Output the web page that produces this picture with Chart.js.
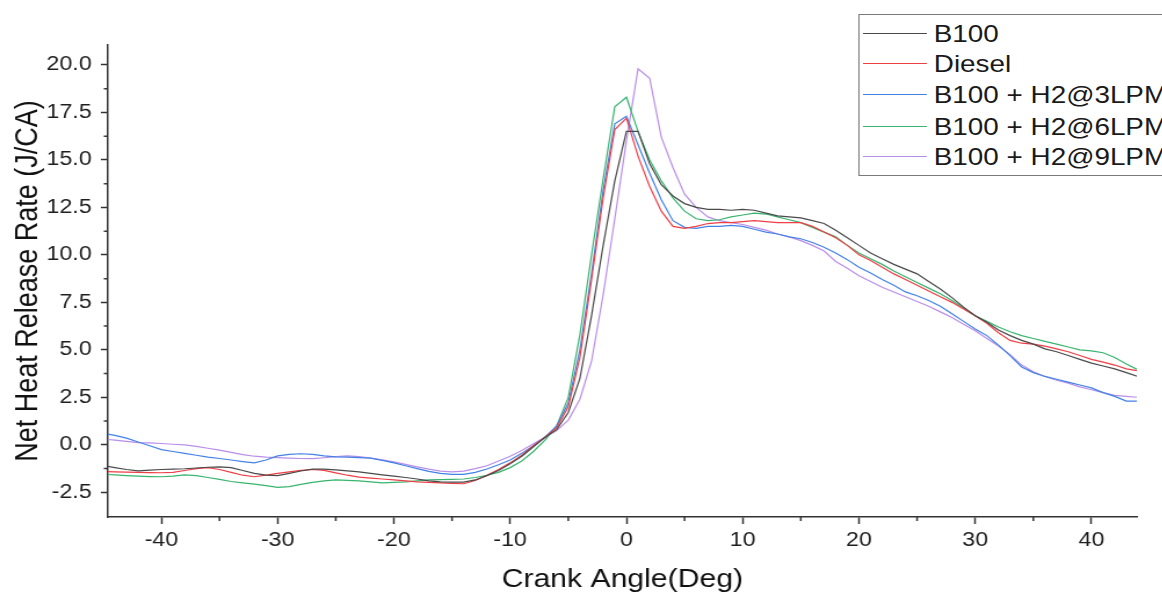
<!DOCTYPE html>
<html>
<head>
<meta charset="utf-8">
<script src="https://cdn.jsdelivr.net/npm/chart.js@4.4.1/dist/chart.umd.min.js"></script>
<style>
    html, body { margin: 0; padding: 0; background: #fff; overflow: hidden; width: 1162px; height: 593px; }
    /* el dibujo original está algo ensanchado en horizontal */
    #lienzo { position: relative; width: 1002px; height: 593px; transform: scaleX(1.16); transform-origin: 0 0; }
    #grafico { position: absolute; left: 0; top: 0; }
    #leyenda {
        position: absolute; left: 740px; top: 14px; width: 320px; height: 162px;
        border: 1.5px solid #7a7a7a; box-sizing: border-box; background: #fff;
        font-family: "Liberation Sans", Arial, sans-serif; font-size: 24px; color: #1a1a1a;
    }
    .fila { position: absolute; left: 0; height: 28px; width: 100%; }
    .muestra { position: absolute; left: 3px; top: 13px; width: 55px; height: 1.3px; }
    .texto { position: absolute; left: 64px; top: 0; line-height: 28px; white-space: nowrap; }
</style>
</head>
<body>
<div id="lienzo">
    <canvas id="grafico" width="1002" height="593"></canvas>
    <div id="leyenda"></div>
</div>
<script>
// grados de cigüeñal
const angulos = [-45, -44, -43, -42, -41, -40, -39, -38, -37, -36,
    -35, -34, -33, -32, -31, -30, -29, -28, -27, -26,
    -25, -24, -23, -22, -21, -20, -19, -18, -17, -16,
    -15, -14, -13, -12, -11, -10, -9, -8, -7, -6,
    -5, -4, -3, -2, -1, 0, 1, 2, 3, 4,
    5, 6, 7, 8, 9, 10, 11, 12, 13, 14,
    15, 16, 17, 18, 19, 20, 21, 22, 23, 24,
    25, 26, 27, 28, 29, 30, 31, 32, 33, 34,
    35, 36, 37, 38, 39, 40, 41, 42, 43, 44];

const tasaB100 = [-1.1, -1.2, -1.3, -1.37, -1.33, -1.3, -1.28, -1.26, -1.22, -1.18,
    -1.16, -1.2, -1.35, -1.5, -1.6, -1.62, -1.5, -1.38, -1.28, -1.28,
    -1.32, -1.37, -1.42, -1.5, -1.58, -1.65, -1.72, -1.8, -1.9, -1.95,
    -1.96, -1.96, -1.85, -1.62, -1.35, -1.0, -0.6, -0.1, 0.4, 0.8,
    1.7, 3.5, 6.8, 10.5, 13.9, 16.5, 16.5, 14.8, 13.7, 13.1,
    12.7, 12.5, 12.4, 12.4, 12.35, 12.4, 12.35, 12.2, 12.05, 12.0,
    11.95, 11.8, 11.65, 11.3, 10.9, 10.5, 10.1, 9.8, 9.5, 9.25,
    9.0, 8.6, 8.2, 7.75, 7.25, 6.8, 6.45, 6.05, 5.75, 5.5,
    5.3, 5.05, 4.9, 4.7, 4.5, 4.3, 4.15, 4.0, 3.8, 3.6];

const tasaDiesel = [-1.4, -1.42, -1.44, -1.45, -1.46, -1.47, -1.45, -1.35, -1.25, -1.2,
    -1.3, -1.45, -1.6, -1.68, -1.6, -1.5, -1.42, -1.35, -1.3, -1.35,
    -1.48, -1.6, -1.7, -1.75, -1.8, -1.85, -1.9, -1.95, -1.98, -2.0,
    -2.03, -2.05, -1.88, -1.6, -1.3, -0.95, -0.55, -0.05, 0.4, 0.9,
    2.0, 4.6, 8.7, 13.0, 16.6, 17.2, 15.2, 13.6, 12.3, 11.5,
    11.4, 11.5, 11.65, 11.7, 11.7, 11.75, 11.8, 11.75, 11.7, 11.7,
    11.7, 11.5, 11.2, 10.9, 10.5, 10.0, 9.7, 9.35, 9.0, 8.7,
    8.4, 8.1, 7.8, 7.5, 7.15, 6.8, 6.4, 5.9, 5.5, 5.35,
    5.3, 5.2, 5.05, 4.9, 4.7, 4.5, 4.35, 4.2, 4.0, 3.9];

const tasaH2_3 = [0.6, 0.5, 0.35, 0.15, -0.05, -0.25, -0.35, -0.45, -0.55, -0.65,
    -0.72, -0.8, -0.88, -0.95, -0.8, -0.58, -0.5, -0.47, -0.5, -0.58,
    -0.63, -0.65, -0.67, -0.7, -0.82, -0.95, -1.1, -1.25, -1.4, -1.5,
    -1.56, -1.56, -1.45, -1.27, -1.05, -0.8, -0.45, -0.05, 0.4, 1.0,
    2.2, 5.0, 9.0, 13.4, 16.9, 17.3, 15.8, 14.3, 12.9, 11.8,
    11.45, 11.4, 11.5, 11.5, 11.55, 11.5, 11.35, 11.2, 11.1, 10.95,
    10.85, 10.65, 10.4, 10.1, 9.75, 9.35, 9.05, 8.7, 8.4, 8.05,
    7.85, 7.6, 7.3, 6.9, 6.5, 6.1, 5.75, 5.25, 4.7, 4.1,
    3.8, 3.6, 3.45, 3.3, 3.15, 3.0, 2.75, 2.55, 2.3, 2.3];

const tasaH2_6 = [-1.55, -1.58, -1.62, -1.65, -1.67, -1.68, -1.65, -1.58, -1.62, -1.72,
    -1.82, -1.93, -2.0, -2.07, -2.15, -2.24, -2.2, -2.08, -1.98, -1.9,
    -1.85, -1.87, -1.9, -1.95, -2.0, -1.98, -1.95, -1.9, -1.85, -1.83,
    -1.82, -1.8, -1.72, -1.6, -1.45, -1.2, -0.85, -0.35, 0.25, 1.0,
    2.5, 5.8, 10.0, 14.0, 17.8, 18.3, 16.5, 15.0, 13.9, 13.0,
    12.3, 11.9, 11.8, 11.85, 12.0, 12.1, 12.2, 12.15, 12.0, 11.85,
    11.7, 11.45, 11.2, 10.95, 10.5, 10.1, 9.8, 9.5, 9.15, 8.85,
    8.55, 8.25, 7.95, 7.6, 7.2, 6.8, 6.5, 6.2, 5.95, 5.75,
    5.6, 5.45, 5.3, 5.15, 5.0, 4.95, 4.85, 4.6, 4.25, 3.95];

const tasaH2_9 = [0.3, 0.25, 0.18, 0.12, 0.1, 0.07, 0.03, 0.0, -0.08, -0.18,
    -0.28, -0.4, -0.52, -0.6, -0.65, -0.67, -0.7, -0.72, -0.73, -0.68,
    -0.62, -0.58, -0.62, -0.7, -0.79, -0.9, -1.03, -1.16, -1.28, -1.38,
    -1.42, -1.38, -1.25, -1.1, -0.85, -0.6, -0.3, 0.05, 0.4, 0.75,
    1.3, 2.4, 4.4, 7.9, 11.9, 16.0, 19.8, 19.3, 16.2, 14.6,
    13.2, 12.5, 12.0, 11.8, 11.7, 11.6, 11.45, 11.3, 11.1, 10.95,
    10.75, 10.5, 10.2, 9.65, 9.3, 8.9, 8.6, 8.3, 8.05, 7.8,
    7.55, 7.3, 7.0, 6.7, 6.35, 6.0, 5.6, 5.2, 4.75, 4.2,
    3.85, 3.6, 3.4, 3.25, 3.05, 2.9, 2.75, 2.6, 2.55, 2.5];

const nombres = ["B100", "Diesel", "B100 + H2@3LPM", "B100 + H2@6LPM", "B100 + H2@9LPM"];
const colores = ["#4a4a4a", "#ee3f45", "#4282e6", "#38b46e", "#b98ee8"];
const series = [tasaB100, tasaDiesel, tasaH2_3, tasaH2_6, tasaH2_9];

// marcas de los ejes (mayores con etiqueta, menores sin ella)
const marcasX = [-40, -30, -20, -10, 0, 10, 20, 30, 40];
const marcasY = [-2.5, 0, 2.5, 5, 7.5, 10, 12.5, 15, 17.5, 20];
const menoresX = [-35, -25, -15, -5, 5, 15, 25, 35];
const menoresY = [-1.25, 1.25, 3.75, 6.25, 8.75, 11.25, 13.75, 16.25, 18.75];

Chart.defaults.font.family = '"Liberation Sans", Arial, sans-serif';

const marcasMenores = {
    id: 'marcasMenores',
    afterDraw(chart) {
        const ctx = chart.ctx;
        const ejeX = chart.scales.x;
        const ejeY = chart.scales.y;
        ctx.save();
        ctx.strokeStyle = '#333';
        ctx.lineWidth = 1.5;
        ctx.beginPath();
        for (const v of menoresX) {
            const px = ejeX.getPixelForValue(v);
            ctx.moveTo(px, ejeX.top);
            ctx.lineTo(px, ejeX.top + 4);
        }
        for (const v of menoresY) {
            const py = ejeY.getPixelForValue(v);
            ctx.moveTo(ejeY.right, py);
            ctx.lineTo(ejeY.right - 3.5, py);
        }
        ctx.stroke();
        ctx.restore();
    }
};

function armarDatasets() {
    return series.map((valores, i) => ({
        label: nombres[i],
        data: valores.map((v, j) => ({ x: angulos[j], y: v })),
        borderColor: colores[i],
        borderWidth: 1.2,
        pointRadius: 0,
        tension: 0,
        fill: false
    }));
}

function armarLeyenda() {
    const leyenda = document.getElementById("leyenda");
    const centros = [19, 49, 80, 112, 142];
    nombres.forEach((nombre, i) => {
        const fila = document.createElement("div");
        fila.className = "fila";
        fila.style.top = (centros[i] - 14) + "px";
        const muestra = document.createElement("div");
        muestra.className = "muestra";
        muestra.style.background = colores[i];
        const texto = document.createElement("span");
        texto.className = "texto";
        texto.textContent = nombre;
        fila.appendChild(muestra);
        fila.appendChild(texto);
        leyenda.appendChild(fila);
    });
}

function dibujarGrafico() {
    const ctx = document.getElementById('grafico').getContext('2d');
    new Chart(ctx, {
        type: 'line',
        data: { datasets: armarDatasets() },
        options: {
            responsive: false,
            animation: false,
            devicePixelRatio: 1,
            layout: { padding: { top: 45, right: 22, left: 0, bottom: 0 } },
            plugins: { legend: { display: false }, tooltip: { enabled: false } },
            scales: {
                x: {
                    type: 'linear',
                    min: -44.6,
                    max: 43.9,
                    afterBuildTicks: eje => { eje.ticks = marcasX.map(v => ({ value: v })); },
                    afterFit: eje => { eje.height = 76; },
                    grid: { display: true, drawOnChartArea: false, drawTicks: true, tickLength: 7, tickColor: '#333', tickWidth: 1.5 },
                    border: { display: true, color: '#333', width: 1.5 },
                    ticks: { autoSkip: false, maxRotation: 0, padding: 4, color: '#1e1e1e', font: { size: 20 } },
                    title: { display: true, text: 'Crank Angle(Deg)', color: '#111', font: { size: 26, lineHeight: 1 }, padding: { top: 0, bottom: 0 } }
                },
                y: {
                    type: 'linear',
                    min: -3.8,
                    max: 21.05,
                    afterBuildTicks: eje => { eje.ticks = marcasY.map(v => ({ value: v })); },
                    afterFit: eje => { eje.width = 93; },
                    grid: { display: true, drawOnChartArea: false, drawTicks: true, tickLength: 6, tickColor: '#333', tickWidth: 1.5 },
                    border: { display: true, color: '#333', width: 1.5 },
                    ticks: { autoSkip: false, padding: 8, color: '#1e1e1e', font: { size: 20 },
                        callback: v => v.toFixed(1) },
                    title: { display: true, text: 'Net Heat Release Rate (J/CA)', color: '#111', font: { size: 27, lineHeight: 1 }, padding: { top: 11, bottom: 0 } }
                }
            }
        },
        plugins: [marcasMenores]
    });
}

armarLeyenda();
dibujarGrafico();
</script>
</body>
</html>
